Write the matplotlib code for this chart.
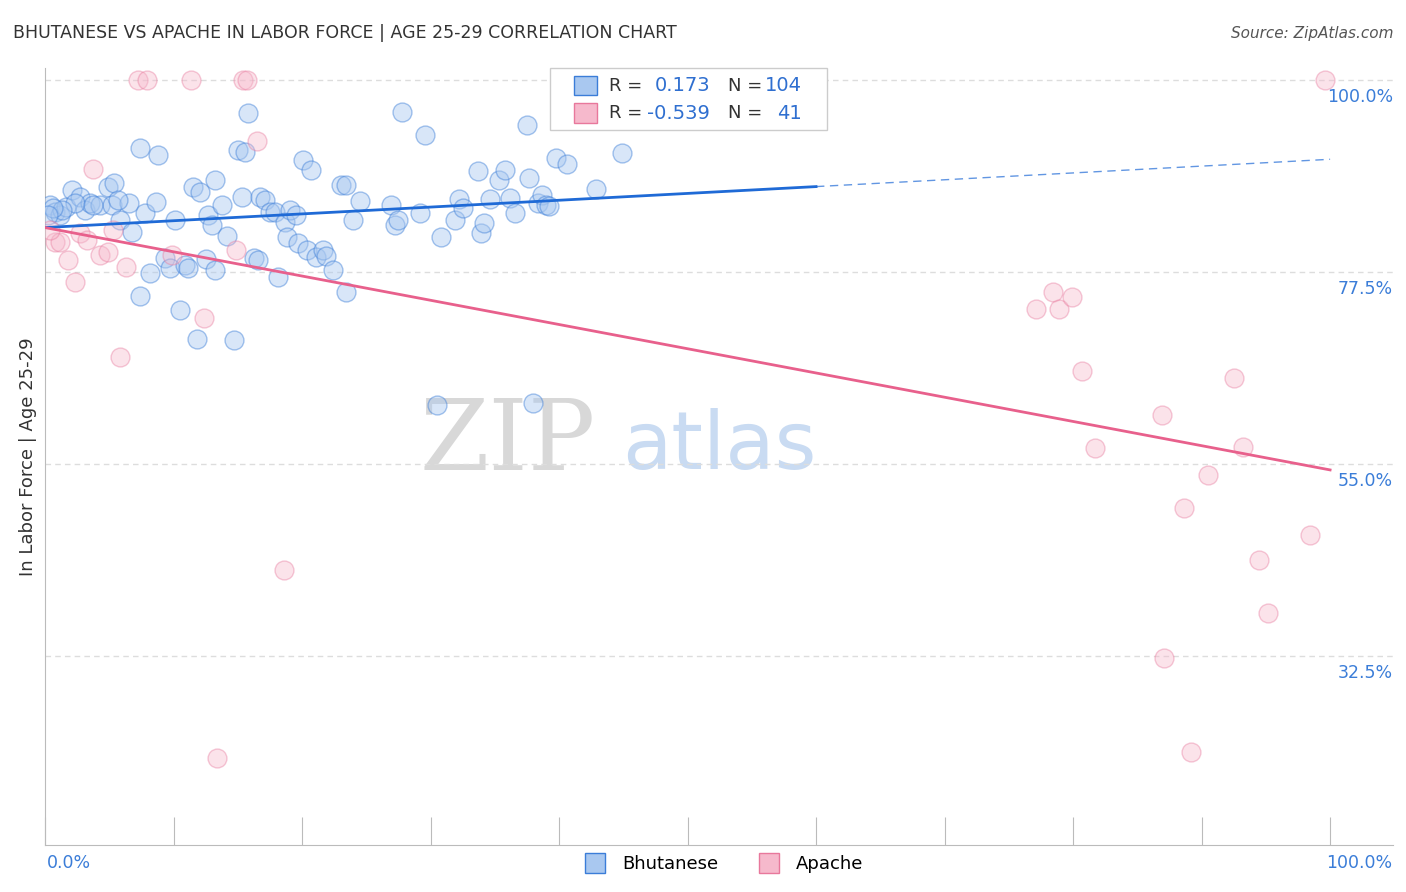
import numpy as np
from matplotlib import pyplot as plt
from matplotlib.lines import Line2D

# Bhutanese (blue)
bhu_x = [0.4, 0.8, 1.2, 1.6, 2.1, 2.7, 3.1, 3.5, 4.3, 4.9, 5.4, 5.2, 5.8, 6.5, 6.8, 7.4, 7.8, 8.2, 8.6, 8.8,
         9.3, 9.7, 10.1, 10.5, 10.9, 11.1, 11.5, 12.1, 12.5, 12.7, 13.0, 13.2, 13.8, 14.2, 15.0, 15.3, 15.6, 15.8,
         16.3, 16.6, 16.7, 17.1, 17.5, 17.9, 18.1, 18.7, 18.8, 19.1, 19.5, 19.7, 20.1, 20.4, 20.7, 21.1, 21.6,
         21.9, 22.4, 23.0, 23.4, 23.4, 24.0, 24.5, 26.9, 27.2, 27.5, 27.8, 29.2, 29.6, 30.5, 30.8, 31.9, 32.2,
         32.5, 33.7, 33.9, 34.2, 34.6, 35.3, 35.8, 36.2, 36.6, 37.5, 37.7, 38.0, 38.4, 38.7, 39.0, 39.2, 39.8,
         40.6, 42.9, 44.9, 59.8, 7.4, 11.8, 14.7, 13.2, 2.3, 1.3, 0.6, 5.7, 3.7, 0.2]
bhu_y = [85.4, 84.5, 84.2, 85.1, 87.1, 86.3, 84.8, 85.6, 85.4, 87.5, 87.9, 85.4, 83.6, 85.6, 82.2, 92.0, 84.4,
         77.4, 85.7, 91.2, 79.1, 78.0, 83.6, 73.0, 78.3, 78.0, 87.5, 86.9, 79.0, 84.2, 83.0, 88.3, 85.4, 81.7,
         91.8, 86.3, 91.6, 96.1, 79.1, 78.9, 86.3, 85.9, 84.5, 84.5, 76.9, 83.4, 81.6, 84.8, 84.2, 80.9, 90.6,
         80.1, 89.5, 79.3, 80.1, 79.4, 77.7, 87.7, 87.7, 75.2, 83.6, 85.8, 85.4, 83.0, 83.6, 96.2, 84.4, 93.6,
         61.9, 81.6, 83.6, 86.1, 85.0, 89.3, 82.1, 83.2, 86.1, 88.3, 89.5, 86.2, 84.4, 94.7, 88.5, 62.1, 85.6,
         86.5, 85.4, 85.2, 90.9, 90.2, 87.2, 91.4, 100.0, 74.7, 69.6, 69.5, 77.7, 85.6, 84.8, 85.0, 85.9, 85.4, 84.2]

# Apache (pink)
apa_x = [0.8, 1.2, 1.8, 2.3, 2.7, 3.3, 3.7, 4.3, 4.9, 5.3, 5.8, 6.3, 7.2, 7.9, 9.9, 11.4, 12.4, 14.9, 15.4,
         15.7, 16.5, 18.6, 13.4, 77.1, 78.4, 78.9, 79.9, 80.7, 81.7, 86.9, 87.1, 88.6, 89.2, 90.5, 92.5, 93.2,
         94.5, 95.2, 98.4, 99.6, 0.4]
apa_y = [81.0, 81.0, 78.9, 76.3, 82.1, 81.3, 89.6, 79.5, 79.8, 82.4, 67.5, 78.1, 100, 100, 79.5, 100, 72.1,
         80.1, 100, 100, 92.9, 42.6, 20.5, 73.2, 75.2, 73.2, 74.6, 65.9, 56.9, 60.7, 32.3, 49.8, 21.2, 53.7,
         65.1, 57.0, 43.7, 37.5, 46.7, 100, 82.4]

# trend lines (start/end)
bhu_trend = [82.7, 90.7]
apa_trend = [82.7, 54.3]
bhu_solid_end = 60

yticks = [100, 77.5, 55, 32.5]

blue = '#3b7dd8'
blue_fill = '#a9c8f0'
pink = '#e8789c'
pink_fill = '#f6b9cc'

fig = plt.figure(figsize=(14.06, 8.92), dpi=100)
ax = fig.add_axes([0.032, 0.0527, 0.9588, 0.8711])

ax.scatter(bhu_x, bhu_y, s=185, facecolor=blue_fill, edgecolor=blue, alpha=0.45, linewidth=1, zorder=3)
ax.scatter(apa_x, apa_y, s=185, facecolor=pink_fill, edgecolor=pink, alpha=0.4, linewidth=1, zorder=3)

def line(a, b, x):
    return a + (b - a) * np.asarray(x) / 100

xs = np.array([0, bhu_solid_end])
ax.plot(xs, line(*bhu_trend, xs), color='#1f6ad6', lw=2, zorder=4)
xd = np.array([bhu_solid_end, 100])
ax.plot(xd, line(*bhu_trend, xd), color='#1f6ad6', lw=1, ls=(0, (6, 4)), alpha=0.7, zorder=4)
xp = np.array([0, 100])
ax.plot(xp, line(*apa_trend, xp), color='#e8608c', lw=2, zorder=4)

ax.set_xlim(0, 104.9)
ax.set_ylim(10.35, 101.4)
for v in yticks:
    ax.axhline(v, color='#dddddd', lw=1, ls=(0, (4, 3)), zorder=1)
    ax.text(104.9, v - 2.0, f'{v:.1f}%', color='#3b7dd8', fontsize=12.5, ha='right', va='center')
ax.set_yticks([])
ax.set_xticks(np.arange(0, 101, 10))
ax.set_xticklabels([])
ax.tick_params(axis='x', direction='in', length=20, color='#bbbbbb')
for s in ['top', 'right']:
    ax.spines[s].set_visible(False)
ax.spines['left'].set_color('#bbbbbb')
ax.spines['bottom'].set_color('#bbbbbb')
ax.set_ylabel('In Labor Force | Age 25-29', fontsize=13, color='#333333', labelpad=6)

fig.text(0.049, 0.033, '0.0%', color='#3b7dd8', fontsize=12.5, ha='center', va='center')
fig.text(0.967, 0.033, '100.0%', color='#3b7dd8', fontsize=12.5, ha='center', va='center')

fig.text(0.009, 0.963, 'BHUTANESE VS APACHE IN LABOR FORCE | AGE 25-29 CORRELATION CHART',
         fontsize=12.5, color='#333333', va='center')
fig.text(0.991, 0.963, 'Source: ZipAtlas.com', fontsize=11, color='#555555', style='italic',
         ha='right', va='center')

# watermark
ax.text(36, 57.5, 'ZIP', fontsize=72, color='#d8d8d8', ha='center', va='center', family='DejaVu Serif', zorder=0)
ax.text(52.5, 57, 'atlas', fontsize=58, color='#c9dbf2', ha='center', va='center', zorder=0)

# top legend box
lx, ly = 0.391, 0.854
fig.patches.append(plt.Rectangle((lx, ly), 0.197, 0.07, transform=fig.transFigure,
                                 facecolor='white', edgecolor='#cccccc', lw=1, zorder=5))
for i, (fc, ec, r, n) in enumerate([(blue_fill, blue, '0.173', '104'), (pink_fill, pink, '-0.539', '41')]):
    yy = 0.904 - i * 0.031
    fig.patches.append(plt.Rectangle((lx + 0.0175, yy - 0.011), 0.016, 0.022, transform=fig.transFigure,
                                     facecolor=fc, edgecolor=ec, lw=1, zorder=6))
    fig.text(lx + 0.042, yy, 'R =', fontsize=13, color='#333333', va='center', zorder=7)
    fig.text(lx + 0.114, yy, r, fontsize=14, color='#2f6fd0', va='center', ha='right', zorder=7)
    fig.text(lx + 0.127, yy, 'N =', fontsize=13, color='#333333', va='center', zorder=7)
    fig.text(lx + 0.179, yy, n, fontsize=14, color='#2f6fd0', va='center', ha='right', zorder=7)

# bottom legend
handles = [Line2D([], [], marker='s', ls='', markersize=15, markerfacecolor=blue_fill, markeredgecolor=blue),
           Line2D([], [], marker='s', ls='', markersize=15, markerfacecolor=pink_fill, markeredgecolor=pink)]
fig.legend(handles, ['Bhutanese', 'Apache'], loc='center', bbox_to_anchor=(0.512, 0.031), ncol=2,
           frameon=False, fontsize=13, handletextpad=0.5, columnspacing=1.8)

fig.savefig('out.png', dpi=100)
